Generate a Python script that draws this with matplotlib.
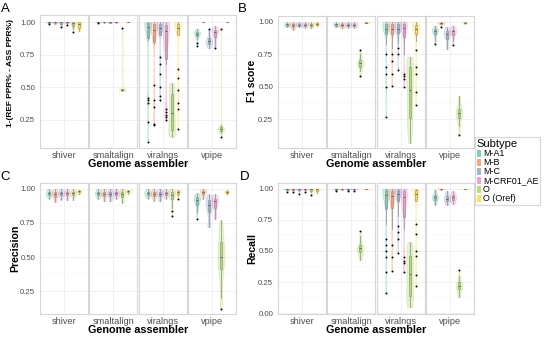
import numpy as np
import matplotlib.pyplot as plt
from matplotlib.colors import to_rgba
from matplotlib.patches import Patch

plt.rcParams['font.family'] = ['Liberation Sans', 'DejaVu Sans']

subtypes = ["M-A1", "M-B", "M-C", "M-CRF01_AE", "O", "O (Oref)"]
colors = ["#66C2A5", "#FC8D62", "#8DA0CB", "#E78AC3", "#A6D854", "#FFD92F"]
assemblers = ["shiver", "smaltalign", "viralngs", "vpipe"]

# ---- A: 1-(REF PPR% - ASS PPR%) ----
a_shiver = [
    [1.0, 1.0, 1.0, 0.999, 0.998, 0.997, 0.995, 0.99, 0.985],
    [1.0, 1.0, 0.999, 0.998, 0.996, 0.993, 0.99, 0.985],
    [1.0, 1.0, 0.999, 0.998, 0.995, 0.99, 0.975, 0.96],
    [1.0, 1.0, 0.999, 0.998, 0.996, 0.99, 0.98],
    [1.0, 1.0, 0.999, 0.997, 0.994, 0.985, 0.97, 0.95, 0.925],
    [1.0, 0.999, 0.997, 0.99, 0.975, 0.96, 0.945, 0.93],
]
a_smaltalign = [
    [1.0, 1.0, 0.999, 0.998, 0.996, 0.99],
    [1.0, 1.0, 0.999, 0.998, 0.997, 0.995],
    [1.0, 1.0, 0.999, 0.998, 0.995, 0.99],
    [1.0, 1.0, 0.999, 0.998, 0.996, 0.993],
    [0.955, 0.49, 0.485, 0.48, 0.48, 0.475, 0.47],
    [1.0, 1.0, 0.999],
]
a_viralngs = [
    [1.0, 1.0, 1.0, 0.998, 0.995, 0.99, 0.99, 0.985, 0.98, 0.975, 0.97, 0.96, 0.95, 0.94,
     0.93, 0.91, 0.89, 0.86, 0.42, 0.40, 0.38, 0.23, 0.08],
    [1.0, 1.0, 0.998, 0.995, 0.99, 0.985, 0.98, 0.975, 0.97, 0.96, 0.95, 0.94, 0.93, 0.92,
     0.9, 0.88, 0.86, 0.83, 0.52, 0.40, 0.35, 0.22, 0.21],
    [1.0, 1.0, 1.0, 0.998, 0.995, 0.99, 0.99, 0.985, 0.98, 0.975, 0.97, 0.965, 0.96, 0.955,
     0.95, 0.94, 0.93, 0.92, 0.91, 0.9, 0.73, 0.68, 0.6, 0.5, 0.43, 0.40],
    [1.0, 1.0, 0.995, 0.99, 0.985, 0.98, 0.975, 0.97, 0.96, 0.95, 0.94, 0.93, 0.91, 0.89,
     0.86, 0.82, 0.76, 0.68, 0.33, 0.31, 0.29, 0.27, 0.25],
    [0.53, 0.52, 0.5, 0.48, 0.45, 0.4, 0.35, 0.32, 0.3, 0.27, 0.22, 0.19, 0.17, 0.15,
     0.14, 0.13, 0.12],
    [1.0, 1.0, 1.0, 0.998, 0.995, 0.99, 0.99, 0.985, 0.98, 0.975, 0.97, 0.965, 0.96, 0.955,
     0.95, 0.94, 0.93, 0.92, 0.91, 0.9, 0.64, 0.57, 0.48, 0.38, 0.33, 0.18],
]
a_vpipe = [
    [0.95, 0.94, 0.93, 0.925, 0.92, 0.915, 0.91, 0.91, 0.905, 0.9, 0.89, 0.87, 0.84, 0.82],
    [1.0, 1.0, 1.0],
    [0.95, 0.93, 0.9, 0.88, 0.87, 0.86, 0.855, 0.85, 0.845, 0.84, 0.83, 0.82, 0.81, 0.80],
    [0.97, 0.96, 0.95, 0.94, 0.935, 0.93, 0.925, 0.92, 0.91, 0.9, 0.88, 0.85, 0.82, 0.80],
    [0.95, 0.21, 0.2, 0.19, 0.185, 0.18, 0.18, 0.175, 0.17, 0.16, 0.15, 0.12],
    [1.0, 1.0, 1.0],
]

# ---- B: F1 score ----
b_shiver = [
    [0.995, 0.99, 0.985, 0.98, 0.98, 0.975, 0.97, 0.965, 0.96],
    [0.995, 0.99, 0.985, 0.98, 0.975, 0.97, 0.96, 0.95, 0.94],
    [0.995, 0.99, 0.985, 0.98, 0.975, 0.97, 0.965, 0.96],
    [0.995, 0.99, 0.985, 0.98, 0.975, 0.97, 0.96, 0.955],
    [0.995, 0.99, 0.985, 0.98, 0.975, 0.97, 0.96, 0.95],
    [0.995, 0.99, 0.988, 0.985, 0.98, 0.975, 0.97],
]
b_smaltalign = [
    [0.995, 0.99, 0.985, 0.98, 0.98, 0.975, 0.97, 0.965, 0.96],
    [0.995, 0.99, 0.985, 0.98, 0.975, 0.97, 0.965, 0.955, 0.95],
    [0.995, 0.99, 0.985, 0.98, 0.975, 0.97, 0.965, 0.955],
    [0.995, 0.99, 0.985, 0.98, 0.975, 0.97, 0.96, 0.955],
    [0.78, 0.75, 0.72, 0.7, 0.69, 0.68, 0.68, 0.67, 0.66, 0.64, 0.62, 0.58],
    [1.0, 0.995, 0.99, 0.99],
]
b_viralngs = [
    [1.0, 1.0, 0.998, 0.995, 0.99, 0.985, 0.98, 0.975, 0.97, 0.965, 0.96, 0.955, 0.95, 0.945,
     0.94, 0.935, 0.93, 0.92, 0.91, 0.9, 0.83, 0.75, 0.65, 0.6, 0.5, 0.27],
    [1.0, 1.0, 0.998, 0.995, 0.99, 0.985, 0.98, 0.975, 0.97, 0.965, 0.96, 0.955, 0.95, 0.945,
     0.94, 0.935, 0.93, 0.92, 0.91, 0.9, 0.83, 0.8, 0.75, 0.7, 0.6, 0.51],
    [1.0, 1.0, 0.998, 0.995, 0.99, 0.985, 0.98, 0.975, 0.97, 0.965, 0.96, 0.955, 0.95, 0.945,
     0.94, 0.935, 0.93, 0.925, 0.92, 0.915, 0.88, 0.86, 0.84, 0.8, 0.75, 0.63],
    [1.0, 1.0, 0.998, 0.995, 0.99, 0.985, 0.98, 0.975, 0.97, 0.965, 0.96, 0.955, 0.95, 0.945,
     0.94, 0.93, 0.92, 0.9, 0.88, 0.85, 0.75, 0.6, 0.58, 0.56, 0.5],
    [0.73, 0.72, 0.7, 0.68, 0.66, 0.62, 0.58, 0.53, 0.5, 0.45, 0.4, 0.35, 0.3, 0.25,
     0.22, 0.18, 0.12, 0.07],
    [1.0, 1.0, 0.998, 0.995, 0.99, 0.985, 0.98, 0.975, 0.97, 0.965, 0.96, 0.955, 0.95, 0.945,
     0.94, 0.935, 0.93, 0.925, 0.92, 0.915, 0.91, 0.9, 0.85, 0.78, 0.65, 0.6, 0.46, 0.36],
]
b_vpipe = [
    [0.97, 0.96, 0.95, 0.945, 0.94, 0.935, 0.93, 0.93, 0.925, 0.92, 0.91, 0.9, 0.88, 0.85, 0.83],
    [1.0, 0.995, 0.99, 0.99, 0.985, 0.98, 0.96],
    [0.96, 0.95, 0.94, 0.93, 0.92, 0.915, 0.91, 0.905, 0.9, 0.89, 0.88, 0.86, 0.83, 0.8, 0.79],
    [0.97, 0.96, 0.95, 0.94, 0.935, 0.93, 0.925, 0.92, 0.91, 0.9, 0.88, 0.85, 0.82],
    [0.43, 0.4, 0.36, 0.33, 0.32, 0.31, 0.3, 0.29, 0.28, 0.26, 0.24, 0.2, 0.13],
    [1.0, 0.995, 0.99, 0.99, 0.985],
]

# ---- C: Precision ----
c_shiver = [
    [1.0, 0.99, 0.985, 0.98, 0.975, 0.97, 0.965, 0.96, 0.955, 0.95, 0.94, 0.93],
    [1.0, 0.99, 0.98, 0.975, 0.97, 0.965, 0.96, 0.955, 0.95, 0.94, 0.93, 0.91, 0.905],
    [1.0, 0.99, 0.98, 0.975, 0.97, 0.965, 0.96, 0.95, 0.94, 0.92],
    [1.0, 0.99, 0.98, 0.975, 0.97, 0.965, 0.96, 0.95, 0.94, 0.92],
    [1.0, 0.99, 0.98, 0.975, 0.97, 0.965, 0.96, 0.95, 0.94, 0.92],
    [0.995, 0.99, 0.985, 0.98, 0.975, 0.96],
]
c_smaltalign = [
    [1.0, 0.99, 0.985, 0.98, 0.975, 0.97, 0.965, 0.96, 0.955, 0.95, 0.94, 0.93],
    [1.0, 0.99, 0.98, 0.975, 0.97, 0.965, 0.96, 0.955, 0.95, 0.94, 0.92, 0.91],
    [1.0, 0.99, 0.98, 0.975, 0.97, 0.965, 0.96, 0.95, 0.94, 0.92, 0.91],
    [1.0, 0.99, 0.98, 0.975, 0.97, 0.965, 0.96, 0.95, 0.94, 0.93],
    [1.0, 0.99, 0.98, 0.975, 0.97, 0.965, 0.96, 0.95, 0.93, 0.91, 0.9],
    [0.995, 0.99, 0.985, 0.98, 0.975, 0.965],
]
c_viralngs = [
    [1.0, 0.99, 0.985, 0.98, 0.975, 0.97, 0.965, 0.96, 0.955, 0.95, 0.94, 0.93],
    [1.0, 0.99, 0.98, 0.975, 0.97, 0.965, 0.96, 0.955, 0.95, 0.94, 0.93, 0.91],
    [1.0, 0.99, 0.98, 0.975, 0.97, 0.965, 0.96, 0.95, 0.94, 0.92, 0.91],
    [1.0, 0.99, 0.98, 0.975, 0.97, 0.965, 0.96, 0.95, 0.94, 0.93],
    [1.0, 0.995, 0.99, 0.985, 0.98, 0.975, 0.97, 0.965, 0.96, 0.955, 0.95, 0.945, 0.94,
     0.93, 0.92, 0.88, 0.86, 0.84, 0.8],
    [0.995, 0.99, 0.985, 0.98, 0.975, 0.97, 0.95, 0.93],
]
c_vpipe = [
    [0.97, 0.96, 0.95, 0.94, 0.935, 0.93, 0.925, 0.92, 0.91, 0.9, 0.88, 0.86, 0.83, 0.78],
    [1.0, 0.995, 0.99, 0.985, 0.98, 0.975, 0.97, 0.96, 0.95, 0.93],
    [0.96, 0.95, 0.94, 0.93, 0.92, 0.915, 0.91, 0.9, 0.89, 0.88, 0.87, 0.86, 0.85, 0.84,
     0.82, 0.75, 0.74, 0.73, 0.72],
    [0.96, 0.95, 0.94, 0.93, 0.925, 0.92, 0.915, 0.91, 0.9, 0.89, 0.87, 0.85, 0.82, 0.8, 0.78],
    [0.77, 0.72, 0.68, 0.65, 0.62, 0.6, 0.57, 0.54, 0.51, 0.5, 0.49, 0.47, 0.45, 0.43,
     0.4, 0.35, 0.28, 0.2, 0.12],
    [0.99, 0.985, 0.98, 0.98, 0.975, 0.97, 0.96],
]

# ---- D: Recall ----
d_shiver = [
    [1.0, 1.0, 0.999, 0.998, 0.996, 0.993, 0.99, 0.985, 0.975],
    [1.0, 1.0, 0.999, 0.998, 0.996, 0.99, 0.985, 0.97],
    [1.0, 1.0, 0.999, 0.997, 0.995, 0.99, 0.98, 0.96],
    [1.0, 1.0, 0.999, 0.998, 0.995, 0.99, 0.975],
    [1.0, 1.0, 0.999, 0.997, 0.994, 0.985, 0.97, 0.95],
    [1.0, 0.999, 0.997, 0.99, 0.98, 0.965],
]
d_smaltalign = [
    [1.0, 1.0, 0.999, 0.998, 0.995, 0.99, 0.98],
    [1.0, 1.0, 0.999, 0.998, 0.996, 0.99, 0.985],
    [1.0, 1.0, 0.999, 0.998, 0.995, 0.99, 0.98],
    [1.0, 1.0, 0.999, 0.998, 0.996, 0.99, 0.98],
    [0.66, 0.62, 0.58, 0.55, 0.53, 0.52, 0.52, 0.51, 0.5, 0.49, 0.47, 0.45, 0.43],
    [1.0, 0.998, 0.995],
]
d_viralngs = [
    [1.0, 1.0, 1.0, 0.998, 0.995, 0.99, 0.99, 0.985, 0.98, 0.975, 0.97, 0.965, 0.96, 0.955,
     0.95, 0.94, 0.93, 0.92, 0.91, 0.9, 0.88, 0.72, 0.6, 0.55, 0.5, 0.45, 0.33, 0.16],
    [1.0, 1.0, 0.998, 0.995, 0.99, 0.985, 0.98, 0.975, 0.97, 0.96, 0.95, 0.94, 0.93, 0.92,
     0.9, 0.88, 0.86, 0.83, 0.72, 0.68, 0.55, 0.45, 0.34],
    [1.0, 1.0, 1.0, 0.998, 0.995, 0.99, 0.99, 0.985, 0.98, 0.975, 0.97, 0.965, 0.96, 0.955,
     0.95, 0.94, 0.93, 0.92, 0.91, 0.9, 0.82, 0.78, 0.7, 0.65, 0.6, 0.48],
    [1.0, 1.0, 0.995, 0.99, 0.985, 0.98, 0.975, 0.97, 0.96, 0.95, 0.94, 0.93, 0.91, 0.89,
     0.86, 0.82, 0.76, 0.68, 0.45, 0.42, 0.4, 0.33],
    [0.57, 0.55, 0.52, 0.5, 0.47, 0.43, 0.38, 0.35, 0.33, 0.3, 0.25, 0.2, 0.16, 0.13,
     0.12, 0.1, 0.08, 0.05],
    [1.0, 1.0, 1.0, 0.998, 0.995, 0.99, 0.99, 0.985, 0.98, 0.975, 0.97, 0.965, 0.96, 0.955,
     0.95, 0.94, 0.93, 0.92, 0.91, 0.9, 0.72, 0.64, 0.5, 0.46, 0.31, 0.22],
]
d_vpipe = [
    [0.99, 0.97, 0.96, 0.95, 0.94, 0.935, 0.93, 0.93, 0.925, 0.92, 0.91, 0.9, 0.88, 0.87],
    [1.0, 1.0, 0.999, 0.995, 0.99],
    [0.98, 0.96, 0.95, 0.94, 0.93, 0.92, 0.92, 0.915, 0.91, 0.9, 0.89, 0.88, 0.87],
    [0.98, 0.97, 0.96, 0.95, 0.94, 0.935, 0.93, 0.925, 0.92, 0.91, 0.9, 0.89, 0.88],
    [0.35, 0.3, 0.27, 0.25, 0.24, 0.23, 0.22, 0.22, 0.21, 0.2, 0.19, 0.17, 0.15, 0.13],
    [1.0, 1.0, 0.999, 0.995],
]

W, H = 550, 337
fig = plt.figure(figsize=(W / 100, H / 100), dpi=100)
fig.patch.set_facecolor("white")


def px_axes(x0, y0, w, h):
    return fig.add_axes([x0 / W, 1 - (y0 + h) / H, w / W, h / H])


def nrd0_factor(vals):
    # ggplot-like bandwidth, returned as a factor of the sample std
    sd = np.std(vals, ddof=1)
    q75, q25 = np.percentile(vals, [75, 25])
    lo = min(sd, (q75 - q25) / 1.34) if q75 > q25 else sd
    bw = 0.9 * lo * len(vals) ** -0.2
    return max(bw, 1e-3) / sd


def draw_group(ax, pos, vals, color):
    vals = np.asarray(vals, float)
    if np.ptp(vals) > 1e-6:
        vp = ax.violinplot(vals, positions=[pos], widths=0.17, showextrema=False,
                           bw_method=nrd0_factor(vals), points=200)
        for body in vp["bodies"]:
            body.set_facecolor(to_rgba(color, 0.45))
            body.set_edgecolor(color)
            body.set_linewidth(0.6)
    ax.boxplot(vals, positions=[pos], widths=0.055, patch_artist=True, manage_ticks=False,
               boxprops=dict(facecolor=to_rgba(color, 0.85), edgecolor="#8a8a8a", linewidth=0.4),
               whiskerprops=dict(color="#9a9a9a", linewidth=0.6),
               capprops=dict(linewidth=0),
               medianprops=dict(color="#404040", linewidth=0.5),
               flierprops=dict(marker="o", markersize=1.4, markerfacecolor="black",
                               markeredgecolor="none"))


def draw_panel(x0, y0, h, facets, ylim, yticks, ylabel, ylab_xy, ylab_size, letter, letter_xy):
    step = 49.3
    for k, (name, groups) in enumerate(zip(assemblers, facets)):
        ax = px_axes(x0 + k * step, y0, 48, h)
        ax.set_xlim(0.4, 1.6)
        ax.set_ylim(*ylim)
        ax.set_yticks(yticks)
        ax.set_yticks([(a + b) / 2 for a, b in zip(yticks[:-1], yticks[1:])], minor=True)
        ax.set_xticks([1])
        ax.set_xticklabels([name])
        ax.grid(True, which="major", color="#ebebeb", linewidth=0.5)
        ax.grid(True, which="minor", axis="y", color="#f4f4f4", linewidth=0.35)
        ax.set_axisbelow(True)
        for sp in ax.spines.values():
            sp.set_color("#d6d6d6")
            sp.set_linewidth(0.8)
        ax.tick_params(axis="x", length=0, pad=2, labelsize=6.6, labelcolor="#4d4d4d")
        ax.tick_params(axis="y", which="both", length=0, pad=3.5, labelsize=5.6,
                       labelcolor="#4d4d4d")
        if k > 0:
            ax.set_yticklabels([])
        else:
            ax.set_yticklabels([f"{t:.2f}" for t in yticks])
        for i, vals in enumerate(groups):
            if vals:
                draw_group(ax, 1 + (i - 2.5) * 0.15, vals, colors[i])
    cx = x0 + (3 * step + 48) / 2
    fig.text(cx / W, 1 - (y0 + h + 16) / H, "Genome assembler", ha="center", va="center",
             fontsize=7.8, fontweight="bold")
    fig.text(ylab_xy[0] / W, 1 - ylab_xy[1] / H, ylabel, ha="center", va="center",
             rotation=90, fontsize=ylab_size, fontweight="bold")
    fig.text(letter_xy[0] / W, 1 - letter_xy[1] / H, letter, ha="center", va="center",
             fontsize=9.5)


draw_panel(40, 15, 133, [a_shiver, a_smaltalign, a_viralngs, a_vpipe], (0.034, 1.054),
           [0.25, 0.5, 0.75, 1.0], "1-(REF PPR% - ASS PPR%)", (11, 73), 6.0, "A", (5, 8.5))
draw_panel(278, 16, 132, [b_shiver, b_smaltalign, b_viralngs, b_vpipe], (0.03, 1.044),
           [0.25, 0.5, 0.75, 1.0], "F1 score", (252, 81), 7.4, "B", (242, 9))
draw_panel(40, 183, 131, [c_shiver, c_smaltalign, c_viralngs, c_vpipe], (0.081, 1.044),
           [0.25, 0.5, 0.75, 1.0], "Precision", (15, 248), 7.6, "C", (5.5, 177))
draw_panel(278, 183, 131, [d_shiver, d_smaltalign, d_viralngs, d_vpipe], (-0.005, 1.045),
           [0.0, 0.25, 0.5, 0.75, 1.0], "Recall", (252, 248), 7.6, "D", (245, 177))

handles = [Patch(facecolor=to_rgba(c, 0.8), edgecolor=c, linewidth=0.5) for c in colors]
leg = fig.legend(handles, subtypes, loc="upper left", bbox_to_anchor=(475 / W, 1 - 137 / H),
                 title="Subtype", fontsize=6.4, title_fontsize=8, frameon=True, fancybox=False,
                 edgecolor="#cccccc", borderpad=0.2, handlelength=0.35, handleheight=0.7,
                 handletextpad=0.35, labelspacing=0.0, borderaxespad=0, alignment="left")
leg.get_frame().set_linewidth(0.8)

fig.savefig("out.png", dpi=100)
